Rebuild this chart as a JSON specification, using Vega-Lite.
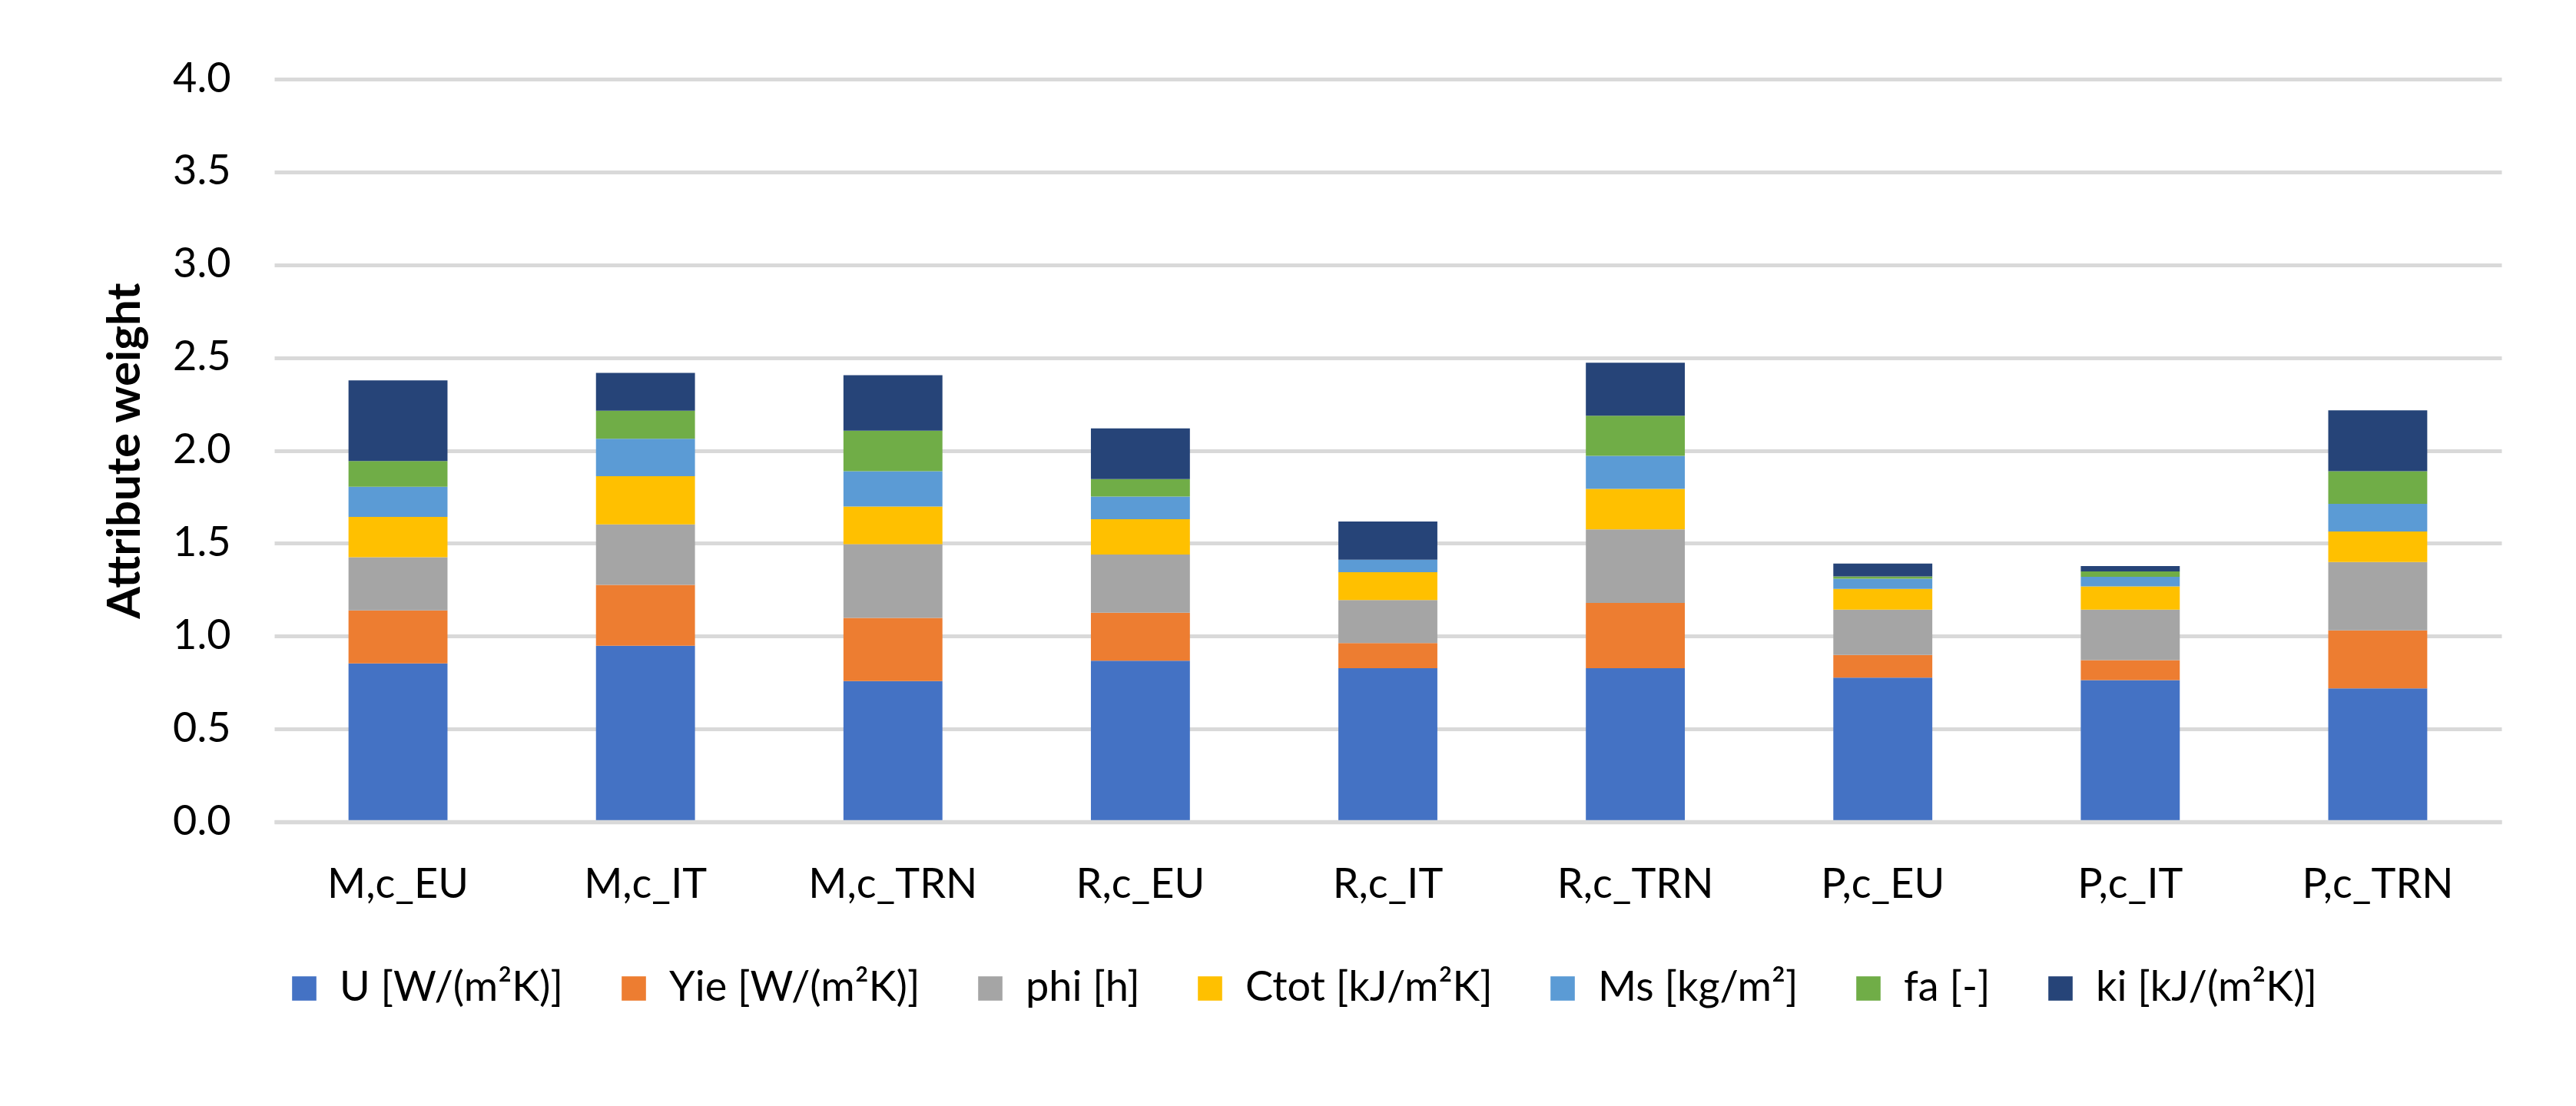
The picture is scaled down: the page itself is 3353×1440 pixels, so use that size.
{
  "$schema": "https://vega.github.io/schema/vega-lite/v6.json",
  "width": 2899,
  "height": 967,
  "autosize": {"type": "none"},
  "padding": {"left": 357, "top": 103, "right": 97, "bottom": 370},
  "background": "#ffffff",
  "config": {
    "view": {"stroke": null},
    "font": "Lato",
    "axis": {"labelFont": "Lato", "titleFont": "Lato", "labelColor": "#000000", "titleColor": "#000000"},
    "legend": {"labelFont": "Lato", "labelColor": "#000000"}
  },
  "data": {
    "values": [
      {"cat": "M,c_EU", "attr": "U [W/(m²K)]", "n": 1, "w": 0.853},
      {"cat": "M,c_EU", "attr": "Yie [W/(m²K)]", "n": 2, "w": 0.286},
      {"cat": "M,c_EU", "attr": "phi [h]", "n": 3, "w": 0.286},
      {"cat": "M,c_EU", "attr": "Ctot [kJ/m²K]", "n": 4, "w": 0.217},
      {"cat": "M,c_EU", "attr": "Ms [kg/m²]", "n": 5, "w": 0.163},
      {"cat": "M,c_EU", "attr": "fa [-]", "n": 6, "w": 0.138},
      {"cat": "M,c_EU", "attr": "ki [kJ/(m²K)]", "n": 7, "w": 0.434},
      {"cat": "M,c_IT", "attr": "U [W/(m²K)]", "n": 1, "w": 0.948},
      {"cat": "M,c_IT", "attr": "Yie [W/(m²K)]", "n": 2, "w": 0.328},
      {"cat": "M,c_IT", "attr": "phi [h]", "n": 3, "w": 0.326},
      {"cat": "M,c_IT", "attr": "Ctot [kJ/m²K]", "n": 4, "w": 0.259},
      {"cat": "M,c_IT", "attr": "Ms [kg/m²]", "n": 5, "w": 0.202},
      {"cat": "M,c_IT", "attr": "fa [-]", "n": 6, "w": 0.151},
      {"cat": "M,c_IT", "attr": "ki [kJ/(m²K)]", "n": 7, "w": 0.204},
      {"cat": "M,c_TRN", "attr": "U [W/(m²K)]", "n": 1, "w": 0.758},
      {"cat": "M,c_TRN", "attr": "Yie [W/(m²K)]", "n": 2, "w": 0.340},
      {"cat": "M,c_TRN", "attr": "phi [h]", "n": 3, "w": 0.397},
      {"cat": "M,c_TRN", "attr": "Ctot [kJ/m²K]", "n": 4, "w": 0.203},
      {"cat": "M,c_TRN", "attr": "Ms [kg/m²]", "n": 5, "w": 0.190},
      {"cat": "M,c_TRN", "attr": "fa [-]", "n": 6, "w": 0.218},
      {"cat": "M,c_TRN", "attr": "ki [kJ/(m²K)]", "n": 7, "w": 0.299},
      {"cat": "R,c_EU", "attr": "U [W/(m²K)]", "n": 1, "w": 0.868},
      {"cat": "R,c_EU", "attr": "Yie [W/(m²K)]", "n": 2, "w": 0.258},
      {"cat": "R,c_EU", "attr": "phi [h]", "n": 3, "w": 0.314},
      {"cat": "R,c_EU", "attr": "Ctot [kJ/m²K]", "n": 4, "w": 0.190},
      {"cat": "R,c_EU", "attr": "Ms [kg/m²]", "n": 5, "w": 0.122},
      {"cat": "R,c_EU", "attr": "fa [-]", "n": 6, "w": 0.094},
      {"cat": "R,c_EU", "attr": "ki [kJ/(m²K)]", "n": 7, "w": 0.273},
      {"cat": "R,c_IT", "attr": "U [W/(m²K)]", "n": 1, "w": 0.827},
      {"cat": "R,c_IT", "attr": "Yie [W/(m²K)]", "n": 2, "w": 0.136},
      {"cat": "R,c_IT", "attr": "phi [h]", "n": 3, "w": 0.231},
      {"cat": "R,c_IT", "attr": "Ctot [kJ/m²K]", "n": 4, "w": 0.150},
      {"cat": "R,c_IT", "attr": "Ms [kg/m²]", "n": 5, "w": 0.068},
      {"cat": "R,c_IT", "attr": "fa [-]", "n": 6, "w": 0.0},
      {"cat": "R,c_IT", "attr": "ki [kJ/(m²K)]", "n": 7, "w": 0.205},
      {"cat": "R,c_TRN", "attr": "U [W/(m²K)]", "n": 1, "w": 0.827},
      {"cat": "R,c_TRN", "attr": "Yie [W/(m²K)]", "n": 2, "w": 0.352},
      {"cat": "R,c_TRN", "attr": "phi [h]", "n": 3, "w": 0.396},
      {"cat": "R,c_TRN", "attr": "Ctot [kJ/m²K]", "n": 4, "w": 0.218},
      {"cat": "R,c_TRN", "attr": "Ms [kg/m²]", "n": 5, "w": 0.178},
      {"cat": "R,c_TRN", "attr": "fa [-]", "n": 6, "w": 0.216},
      {"cat": "R,c_TRN", "attr": "ki [kJ/(m²K)]", "n": 7, "w": 0.286},
      {"cat": "P,c_EU", "attr": "U [W/(m²K)]", "n": 1, "w": 0.777},
      {"cat": "P,c_EU", "attr": "Yie [W/(m²K)]", "n": 2, "w": 0.122},
      {"cat": "P,c_EU", "attr": "phi [h]", "n": 3, "w": 0.244},
      {"cat": "P,c_EU", "attr": "Ctot [kJ/m²K]", "n": 4, "w": 0.111},
      {"cat": "P,c_EU", "attr": "Ms [kg/m²]", "n": 5, "w": 0.055},
      {"cat": "P,c_EU", "attr": "fa [-]", "n": 6, "w": 0.013},
      {"cat": "P,c_EU", "attr": "ki [kJ/(m²K)]", "n": 7, "w": 0.069},
      {"cat": "P,c_IT", "attr": "U [W/(m²K)]", "n": 1, "w": 0.763},
      {"cat": "P,c_IT", "attr": "Yie [W/(m²K)]", "n": 2, "w": 0.108},
      {"cat": "P,c_IT", "attr": "phi [h]", "n": 3, "w": 0.272},
      {"cat": "P,c_IT", "attr": "Ctot [kJ/m²K]", "n": 4, "w": 0.125},
      {"cat": "P,c_IT", "attr": "Ms [kg/m²]", "n": 5, "w": 0.052},
      {"cat": "P,c_IT", "attr": "fa [-]", "n": 6, "w": 0.029},
      {"cat": "P,c_IT", "attr": "ki [kJ/(m²K)]", "n": 7, "w": 0.028},
      {"cat": "P,c_TRN", "attr": "U [W/(m²K)]", "n": 1, "w": 0.719},
      {"cat": "P,c_TRN", "attr": "Yie [W/(m²K)]", "n": 2, "w": 0.312},
      {"cat": "P,c_TRN", "attr": "phi [h]", "n": 3, "w": 0.368},
      {"cat": "P,c_TRN", "attr": "Ctot [kJ/m²K]", "n": 4, "w": 0.165},
      {"cat": "P,c_TRN", "attr": "Ms [kg/m²]", "n": 5, "w": 0.148},
      {"cat": "P,c_TRN", "attr": "fa [-]", "n": 6, "w": 0.176},
      {"cat": "P,c_TRN", "attr": "ki [kJ/(m²K)]", "n": 7, "w": 0.328}
    ]
  },
  "mark": {"type": "bar"},
  "encoding": {
    "x": {
      "field": "cat",
      "type": "nominal",
      "sort": null,
      "scale": {"paddingInner": 0.6, "paddingOuter": 0.3},
      "axis": {
        "title": null,
        "labelAngle": 0,
        "labelFontSize": 54,
        "labelPadding": 55,
        "labelLimit": 1000,
        "ticks": false,
        "tickSize": 0,
        "domain": true,
        "domainColor": "#D9D9D9",
        "domainWidth": 5.5,
        "zindex": 1
      }
    },
    "y": {
      "field": "w",
      "type": "quantitative",
      "stack": "zero",
      "scale": {"domain": [0, 4], "nice": false},
      "axis": {
        "title": "Attribute weight",
        "titleFontSize": 60,
        "titleFontWeight": "bold",
        "titleBaseline": "alphabetic",
        "titleX": -176,
        "values": [0, 0.5, 1, 1.5, 2, 2.5, 3, 3.5, 4],
        "format": ".1f",
        "labelFontSize": 54,
        "labelPadding": 57,
        "ticks": false,
        "tickSize": 0,
        "domain": false,
        "grid": true,
        "gridColor": "#D9D9D9",
        "gridWidth": 5
      }
    },
    "color": {
      "field": "attr",
      "type": "nominal",
      "sort": ["U [W/(m²K)]", "Yie [W/(m²K)]", "phi [h]", "Ctot [kJ/m²K]", "Ms [kg/m²]", "fa [-]", "ki [kJ/(m²K)]"],
      "scale": {
        "domain": ["U [W/(m²K)]", "Yie [W/(m²K)]", "phi [h]", "Ctot [kJ/m²K]", "Ms [kg/m²]", "fa [-]", "ki [kJ/(m²K)]"],
        "range": ["#4472C4", "#ED7D31", "#A5A5A5", "#FFC000", "#5B9BD5", "#70AD47", "#264478"]
      },
      "legend": {
        "title": null,
        "orient": "none",
        "legendX": 12,
        "legendY": 1157,
        "direction": "horizontal",
        "columns": 7,
        "symbolType": "square",
        "symbolSize": 1000,
        "symbolStrokeWidth": 0,
        "labelFontSize": 54,
        "labelOffset": 19,
        "labelLimit": 1000,
        "columnPadding": 64
      }
    },
    "order": {"field": "n", "type": "quantitative", "sort": "ascending"}
  }
}
